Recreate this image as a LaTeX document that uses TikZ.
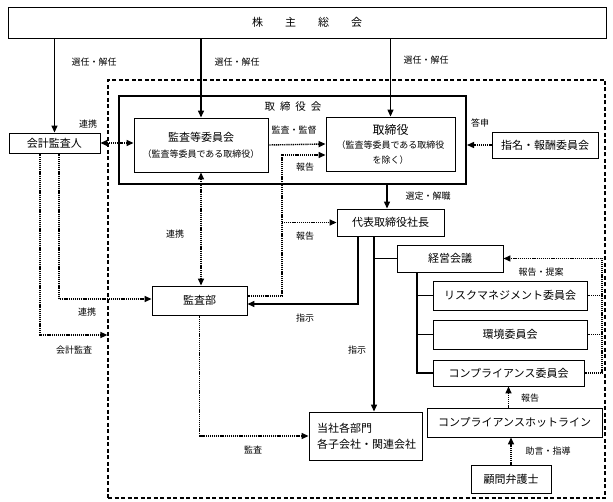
\documentclass[tikz,border=0pt]{standalone}
\usepackage{fontspec}
\setmainfont{Noto Sans CJK JP}
\usetikzlibrary{arrows.meta}

\tikzset{
  box/.style={draw, line width=0.9pt, fill=white, inner sep=0pt, font=\fontsize{11}{13}\selectfont},
  lbl/.style={font=\fontsize{9}{10}\selectfont, inner sep=0pt},
  link/.style={line width=1.3pt},
  dotlink/.style={line width=1.4pt, dash pattern=on 1.1pt off 0.8pt},
  arr/.style={link, -{Triangle[length=7pt,width=6pt]}},
  dotarr/.style={dotlink, -{Triangle[length=7pt,width=6pt]}},
  dotdbl/.style={dotlink, {Triangle[length=7pt,width=6pt]}-{Triangle[length=7pt,width=6pt]}},
}

\begin{document}
\begin{tikzpicture}[x=1pt,y=-1pt]
\useasboundingbox (0,0) rectangle (613,502);
% company boundary
\node[draw, line width=1.2pt, dash pattern=on 4pt off 2.5pt, minimum width=497pt, minimum height=418pt, inner sep=0pt] (kaisha) at (356.5,289) {};
% shareholders
\node[box, minimum width=598pt, minimum height=31pt] (soukai) at (307,22.5) {株\hspace{22pt}主\hspace{22pt}総\hspace{22pt}会};
% board of directors
\node[draw, line width=2pt, minimum width=347pt, minimum height=88pt, inner sep=0pt] (tbkai) at (292.5,140) {};
\node[lbl, font=\fontsize{10.5}{12}\selectfont] (tbkailbl) at (293,107) {取\hspace{5pt}締\hspace{5pt}役\hspace{5pt}会};
\node[box, minimum width=134pt, minimum height=54pt, align=center] (kansa) at (201,145)
  {監査等委員会\\[3pt]{\fontsize{9}{11}\selectfont （監査等委員である取締役）}};
\node[box, minimum width=129pt, minimum height=54pt, align=center] (tori) at (390.5,144)
  {{\fontsize{12}{14}\selectfont 取締役}\\[1pt]{\fontsize{9}{11}\selectfont （監査等委員である取締役}\\[2pt]{\fontsize{9}{11}\selectfont を除く）}};
\node[box, minimum width=91pt, minimum height=20pt] (kaikei) at (54.5,143) {会計監査人};
\node[box, minimum width=106pt, minimum height=26pt] (shimei) at (545,145) {指名・報酬委員会};
% executives
\node[box, minimum width=107pt, minimum height=27pt] (daihyo) at (390.5,222.5) {代表取締役社長};
\node[box, minimum width=95pt, minimum height=29pt] (kansabu) at (199.5,300.5) {監査部};
\node[box, minimum width=106pt, minimum height=27pt] (keiei) at (450,258.5) {経営会議};
\node[box, minimum width=154pt, minimum height=29pt] (risk) at (510,295.5) {リスクマネジメント委員会};
\node[box, minimum width=154pt, minimum height=29pt] (kankyo) at (510,334.5) {環境委員会};
\node[box, minimum width=151pt, minimum height=26pt] (comp) at (508.5,373) {コンプライアンス委員会};
\node[box, minimum width=175pt, minimum height=29pt] (hotline) at (514.5,422.5) {コンプライアンスホットライン};
\node[box, minimum width=80pt, minimum height=28pt] (komon) at (511,479) {顧問弁護士};
\node[box, minimum width=113pt, minimum height=48pt, text width=97pt, align=left] (tosha) at (365.5,436)
  {当社各部門\\[3pt]各子会社・関連会社};

% election arrows
\draw[arr] (kaikei.north |- soukai.south) -- (kaikei.north);
\draw[arr] (kansa.north |- soukai.south) -- (kansa.north);
\draw[arr] (tori.north |- soukai.south) -- (tori.north);
\node[lbl] (sennin1) at (94,62) {選任・解任};
\node[lbl] (sennin2) at (237,62) {選任・解任};
\node[lbl] (sennin3) at (426,60) {選任・解任};

% audit links
\draw[dotdbl] (kaikei.east) -- (kaikei.east -| kansa.west);
\node[lbl] (renkei1) at (88,124) {連携};
\draw[dotarr] (kansa.east) -- (tori.west);
\node[lbl] (kansakantoku) at (294,130) {監査・監督};
\coordinate (rep) at (282,155);
\coordinate (rep2) at (282,222.5);
\draw[dotarr] ([yshift=4.5pt]kansabu.east) -| (rep) -- (rep -| tori.west);
\draw[dotarr] (rep2) -- (daihyo.west);
\node[lbl] (hokoku1) at (305,167) {報告};
\node[lbl] (hokoku2) at (305,236) {報告};
\draw[dotdbl] (kansa.south) -- (kansa.south |- kansabu.north);
\node[lbl] (renkei2) at (175,234) {連携};
\draw[dotarr] ([xshift=4.5pt]kaikei.south) |- ([yshift=1.5pt]kansabu.west);
\node[lbl] (renkei3) at (87,312) {連携};
\coordinate (kansaend) at (kaisha.west |- 0,335);
\draw[dotarr] ([xshift=-14.5pt]kaikei.south) |- (kansaend);
\node[lbl] (kaikeikansa) at (74,350) {会計監査};
\draw[dotarr] (shimei.west) -- (shimei.west -| tbkai.east);
\node[lbl] (toushin) at (480,123) {答申};

% executive lines
\draw[arr] (tbkai.south -| 387,0) -- (daihyo.north -| 387,0);
\node[lbl] (sentei) at (428,196) {選定・解職};
\draw[arr] ([xshift=-32.5pt]daihyo.south) |- ([yshift=-3.5pt]kansabu.east);
\node[lbl] (shiji1) at (305,318) {指示};
\coordinate (trunk) at ([xshift=-16.5pt]daihyo.south);
\draw[arr] (trunk) -- (trunk |- tosha.north);
\node[lbl] (shiji2) at (357,350) {指示};
\draw[link] (keiei.west) -- (keiei.west -| trunk);
\coordinate (branch) at ([xshift=-33pt]keiei.south);
\draw[link] (branch) |- (comp.west);
\draw[link] (risk.west) -- (risk.west -| branch);
\draw[link] (kankyo.west) -- (kankyo.west -| branch);
\draw[dotarr] (kansabu.south) |- (tosha.west);
\node[lbl] (kansa2) at (253,450) {監査};

% committee reports
\coordinate (rt) at (keiei.east -| 602,0);
\draw[dotarr] (comp.east) -| (rt) -- (keiei.east);
\draw[dotlink] (risk.east) -- (risk.east -| rt);
\draw[dotlink] (kankyo.east) -- (kankyo.east -| rt);
\node[lbl] (teian) at (541,272) {報告・提案};
\draw[dotarr] (comp.south |- hotline.north) -- (comp.south);
\node[lbl] (hokoku3) at (530,398) {報告};
\draw[dotarr] (komon.north) -- (komon.north |- hotline.south);
\node[lbl] (jogen) at (548,451) {助言・指導};
\end{tikzpicture}
\end{document}
